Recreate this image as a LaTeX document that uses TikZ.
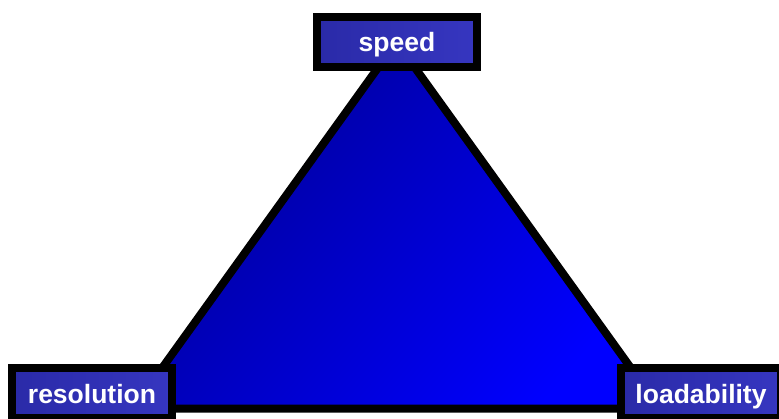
\documentclass[tikz,border=0pt]{standalone}
\usepackage{fontspec}
\setmainfont{Liberation Sans}
\definecolor{tridark}{RGB}{0,0,150}
\definecolor{tribright}{RGB}{0,0,255}
\definecolor{boxleft}{RGB}{42,42,168}
\definecolor{boxright}{RGB}{54,54,192}
\tikzset{
  labelbox/.style={draw=black, line width=8pt, left color=boxleft, right color=boxright,
    minimum width=160pt, minimum height=50pt, inner sep=0pt,
    text=white, font=\fontsize{26.5}{30}\selectfont\bfseries,
    text height=20pt, text depth=0pt},
  tri/.style={draw=black, line width=8pt, line join=miter, left color=tridark, right color=tribright, shading angle=50}
}
\begin{document}
\begin{tikzpicture}[x=1pt,y=1pt]
\useasboundingbox (0,0) rectangle (779,418);
\clip (0,0) rectangle (779,418);
\coordinate (apex) at (396.5,376);
\coordinate (bl) at (133,9.5);
\coordinate (br) at (660,9.5);
\path[tri] (apex) -- (bl) -- (br) -- cycle;
\node[labelbox] (speed) at (397,376) {speed};
\node[labelbox] (resolution) at (92,25) {resolution};
\node[labelbox] (loadability) at (701,25) {loadability};
\end{tikzpicture}
\end{document}
